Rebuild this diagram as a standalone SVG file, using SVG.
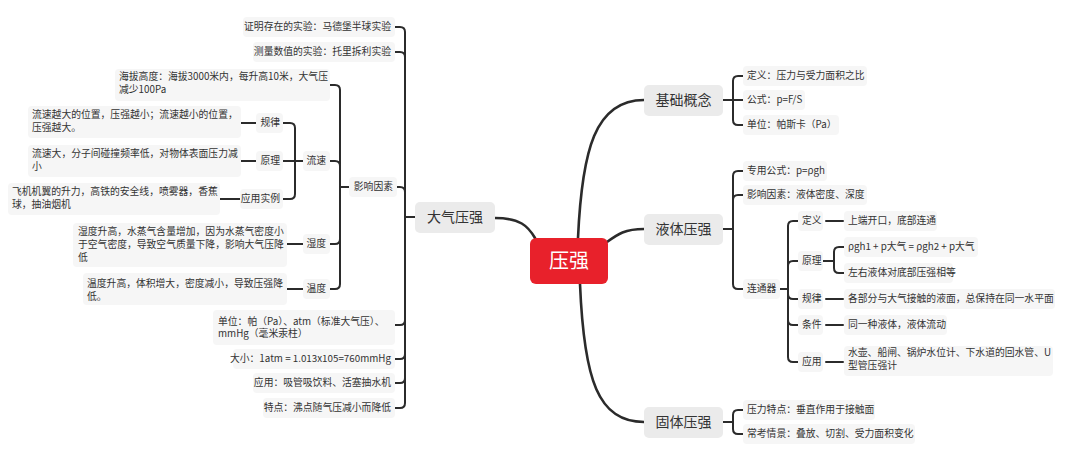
<svg xmlns="http://www.w3.org/2000/svg" width="1080" height="473" viewBox="0 0 1080 473">
<style>
text{font-family:"Noto Sans CJK SC","Noto Sans",sans-serif;fill:#333;}
.t{font-size:9.8px;}
.b{font-size:14px;}
.leaf{fill:#f6f6f6;}
.br{fill:#ebebeb;}
.lnk path{fill:none;stroke:#2b2b2b;stroke-width:2;stroke-linecap:round;stroke-linejoin:round;}
.lnk .m{stroke-width:2.6;}
</style>
<rect width="1080" height="473" fill="#fff"/>
<g class="lnk" id="connectors">
<path class="m" d="M495,218 C520,218 528,226 535,238"/>
<path class="m" d="M607,242 C618,234 625,229 644,229"/>
<path class="m" d="M578,238 C582,150 595,100 644,100"/>
<path class="m" d="M580,284 C584,380 598,422 644,422"/>
<path d="M723,100 H733 V81 Q733,76 738,76 H743"/>
<path d="M723,100 H743"/>
<path d="M723,100 H733 V120 Q733,125 738,125 H743"/>
<path d="M723,229 H733 V176 Q733,171 738,171 H743"/>
<path d="M723,229 H733 V200 Q733,195 738,195 H743"/>
<path d="M723,229 H733 V284 Q733,289 738,289 H743"/>
<path d="M780,289 H788 V226 Q788,221 793,221 H798"/>
<path d="M780,289 H788 V266 Q788,261 793,261 H798"/>
<path d="M780,289 H788 V294 Q788,299 793,299 H798"/>
<path d="M780,289 H788 V320 Q788,325 793,325 H798"/>
<path d="M780,289 H788 V357 Q788,362 793,362 H798"/>
<path d="M823,261 H834 V252 Q834,247 839,247 H844"/>
<path d="M823,261 H834 V268 Q834,273 839,273 H844"/>
<path d="M826,221 H843"/>
<path d="M826,299 H843"/>
<path d="M826,325 H843"/>
<path d="M826,362 H843"/>
<path d="M723,422 H733 V415 Q733,410 738,410 H743"/>
<path d="M723,422 H733 V429 Q733,434 738,434 H743"/>
<path d="M415,217 H405 V32 Q405,27 400,27 H395"/>
<path d="M415,217 H405 V57 Q405,52 400,52 H395"/>
<path d="M415,217 H405 V192 Q405,187 400,187 H397"/>
<path d="M415,217 H405 V320 Q405,325 400,325 H395"/>
<path d="M415,217 H405 V354 Q405,359 400,359 H395"/>
<path d="M415,217 H405 V378 Q405,383 400,383 H395"/>
<path d="M415,217 H405 V403 Q405,408 400,408 H395"/>
<path d="M349,187 H340 V90 Q340,85 335,85 H330"/>
<path d="M349,187 H340 V166 Q340,161 335,161 H330"/>
<path d="M349,187 H340 V239 Q340,244 335,244 H330"/>
<path d="M349,187 H340 V284 Q340,289 335,289 H330"/>
<path d="M303,161 H295 V128 Q295,123 290,123 H283"/>
<path d="M303,161 H283"/>
<path d="M303,161 H295 V194 Q295,199 290,199 H283"/>
<path d="M256,123 H241"/>
<path d="M256,161 H241"/>
<path d="M240,199 H220"/>
<path d="M303,244 H287"/>
<path d="M303,289 H287"/>
</g>
<g id="root"><rect x="530" y="238" width="78" height="46" rx="6" fill="#e8212b"/><text x="569" y="261" dy="0.35em" text-anchor="middle" style="font-size:20px;fill:#fff">压强</text></g>
<g id="n-dqyq"><rect class="br" x="415" y="202" width="80" height="31" rx="5"/><text class="b" x="455" y="217.5" dy="0.35em" text-anchor="middle">大气压强</text></g>
<g id="n-jcgn"><rect class="br" x="644" y="85" width="79" height="31" rx="5"/><text class="b" x="683.5" y="100.5" dy="0.35em" text-anchor="middle">基础概念</text></g>
<g id="n-ytyq"><rect class="br" x="644" y="214" width="79" height="31" rx="5"/><text class="b" x="683.5" y="229.5" dy="0.35em" text-anchor="middle">液体压强</text></g>
<g id="n-gtyq"><rect class="br" x="644" y="407" width="79" height="31" rx="5"/><text class="b" x="683.5" y="422.5" dy="0.35em" text-anchor="middle">固体压强</text></g>
<g id="n-dy"><rect class="leaf" x="743" y="66" width="124" height="20" rx="4"/><text class="t" x="747" y="76" dy="0.35em">定义：压力与受力面积之比</text></g>
<g id="n-gs"><rect class="leaf" x="743" y="90" width="62" height="20" rx="4"/><text class="t" x="747" y="100" dy="0.35em">公式：p=F/S</text></g>
<g id="n-dw"><rect class="leaf" x="743" y="115" width="96" height="20" rx="4"/><text class="t" x="747" y="125" dy="0.35em">单位：帕斯卡（Pa）</text></g>
<g id="n-zygs"><rect class="leaf" x="743" y="161" width="84" height="20" rx="4"/><text class="t" x="747" y="171" dy="0.35em">专用公式：p=ρgh</text></g>
<g id="n-yxys2"><rect class="leaf" x="743" y="185" width="124" height="20" rx="4"/><text class="t" x="747" y="195" dy="0.35em">影响因素：液体密度、深度</text></g>
<g id="n-ltq"><rect class="leaf" x="743" y="279" width="37" height="20" rx="4"/><text class="t" x="747" y="289" dy="0.35em">连通器</text></g>
<g id="n-ltq-dy"><rect class="leaf" x="798" y="211" width="25" height="20" rx="4"/><text class="t" x="802" y="221" dy="0.35em">定义</text></g>
<g id="n-ltq-yl"><rect class="leaf" x="798" y="251" width="25" height="20" rx="4"/><text class="t" x="802" y="261" dy="0.35em">原理</text></g>
<g id="n-ltq-gl"><rect class="leaf" x="798" y="289" width="25" height="20" rx="4"/><text class="t" x="802" y="299" dy="0.35em">规律</text></g>
<g id="n-ltq-tj"><rect class="leaf" x="798" y="315" width="25" height="20" rx="4"/><text class="t" x="802" y="325" dy="0.35em">条件</text></g>
<g id="n-ltq-yy"><rect class="leaf" x="798" y="352" width="25" height="20" rx="4"/><text class="t" x="802" y="362" dy="0.35em">应用</text></g>
<g id="n-ltq-dy-l"><rect class="leaf" x="844" y="211" width="93" height="20" rx="4"/><text class="t" x="848" y="221" dy="0.35em">上端开口，底部连通</text></g>
<g id="n-ltq-yl-1"><rect class="leaf" x="844" y="237" width="134" height="20" rx="4"/><text class="t" x="848" y="247" dy="0.35em">ρgh1 + p大气 = ρgh2 + p大气</text></g>
<g id="n-ltq-yl-2"><rect class="leaf" x="844" y="263" width="109" height="20" rx="4"/><text class="t" x="848" y="273" dy="0.35em">左右液体对底部压强相等</text></g>
<g id="n-ltq-gl-l"><rect class="leaf" x="844" y="289" width="211" height="20" rx="4"/><text class="t" x="848" y="299" dy="0.35em">各部分与大气接触的液面，总保持在同一水平面</text></g>
<g id="n-ltq-tj-l"><rect class="leaf" x="844" y="315" width="103" height="20" rx="4"/><text class="t" x="848" y="325" dy="0.35em">同一种液体，液体流动</text></g>
<g id="n-ltq-yy-l"><rect class="leaf" x="844" y="346" width="209" height="30" rx="4"/><text class="t" y="352.5" dy="0.35em"><tspan x="848">水壶、船闸、锅炉水位计、下水道的回水管、U</tspan><tspan x="848" dy="13">型管压强计</tspan></text></g>
<g id="n-ylfd"><rect class="leaf" x="743" y="400" width="132" height="20" rx="4"/><text class="t" x="747" y="410" dy="0.35em">压力特点：垂直作用于接触面</text></g>
<g id="n-ckqj"><rect class="leaf" x="743" y="424" width="172" height="20" rx="4"/><text class="t" x="747" y="434" dy="0.35em">常考情景：叠放、切割、受力面积变化</text></g>
<g id="n-zmcz"><rect class="leaf" x="243" y="17" width="152" height="20" rx="4"/><text class="t" x="391" y="27" dy="0.35em" text-anchor="end">证明存在的实验：马德堡半球实验</text></g>
<g id="n-clsz"><rect class="leaf" x="253" y="42" width="142" height="20" rx="4"/><text class="t" x="391" y="52" dy="0.35em" text-anchor="end">测量数值的实验：托里拆利实验</text></g>
<g id="n-yxys"><rect class="leaf" x="349" y="177" width="48" height="20" rx="4"/><text class="t" x="393" y="187" dy="0.35em" text-anchor="end">影响因素</text></g>
<g id="n-dw2"><rect class="leaf" x="213" y="310" width="182" height="35" rx="4"/><text class="t" y="322" dy="0.35em"><tspan x="218">单位：帕（Pa）、atm（标准大气压）、</tspan><tspan x="218" dy="12">mmHg（毫米汞柱）</tspan></text></g>
<g id="n-dx"><rect class="leaf" x="233" y="349" width="162" height="20" rx="4"/><text class="t" x="391" y="359" dy="0.35em" text-anchor="end">大小：1atm = 1.013x105=760mmHg</text></g>
<g id="n-yy"><rect class="leaf" x="253" y="373" width="142" height="20" rx="4"/><text class="t" x="391" y="383" dy="0.35em" text-anchor="end">应用：吸管吸饮料、活塞抽水机</text></g>
<g id="n-td"><rect class="leaf" x="263" y="398" width="132" height="20" rx="4"/><text class="t" x="391" y="408" dy="0.35em" text-anchor="end">特点：沸点随气压减小而降低</text></g>
<g id="n-hbgd"><rect class="leaf" x="115" y="69" width="215" height="32" rx="4"/><text class="t" y="77" dy="0.35em"><tspan x="119">海拔高度：海拔3000米内，每升高10米，大气压</tspan><tspan x="119" dy="12.5">减少100Pa</tspan></text></g>
<g id="n-ls"><rect class="leaf" x="303" y="151" width="27" height="20" rx="4"/><text class="t" x="326" y="161" dy="0.35em" text-anchor="end">流速</text></g>
<g id="n-sd"><rect class="leaf" x="303" y="234" width="27" height="20" rx="4"/><text class="t" x="326" y="244" dy="0.35em" text-anchor="end">湿度</text></g>
<g id="n-wd"><rect class="leaf" x="303" y="279" width="27" height="20" rx="4"/><text class="t" x="326" y="289" dy="0.35em" text-anchor="end">温度</text></g>
<g id="n-ls-gl"><rect class="leaf" x="256" y="113" width="27" height="20" rx="4"/><text class="t" x="280" y="123" dy="0.35em" text-anchor="end">规律</text></g>
<g id="n-ls-yl"><rect class="leaf" x="256" y="151" width="27" height="20" rx="4"/><text class="t" x="280" y="161" dy="0.35em" text-anchor="end">原理</text></g>
<g id="n-ls-yy"><rect class="leaf" x="240" y="189" width="43" height="20" rx="4"/><text class="t" x="280" y="199" dy="0.35em" text-anchor="end">应用实例</text></g>
<g id="n-ls-gl-l"><rect class="leaf" x="28" y="106" width="213" height="32" rx="4"/><text class="t" y="115" dy="0.35em"><tspan x="32">流速越大的位置，压强越小；流速越小的位置，</tspan><tspan x="32" dy="13">压强越大。</tspan></text></g>
<g id="n-ls-yl-l"><rect class="leaf" x="28" y="145" width="213" height="32" rx="4"/><text class="t" y="154" dy="0.35em"><tspan x="32">流速大，分子间碰撞频率低，对物体表面压力减</tspan><tspan x="32" dy="13">小</tspan></text></g>
<g id="n-ls-yy-l"><rect class="leaf" x="8" y="183" width="212" height="32" rx="4"/><text class="t" y="192" dy="0.35em"><tspan x="12">飞机机翼的升力，高铁的安全线，喷雾器，香蕉</tspan><tspan x="12" dy="13">球，抽油烟机</tspan></text></g>
<g id="n-sd-l"><rect class="leaf" x="73" y="223" width="214" height="44" rx="4"/><text class="t" y="232" dy="0.35em"><tspan x="78">湿度升高，水蒸气含量增加，因为水蒸气密度小</tspan><tspan x="78" dy="12.8">于空气密度，导致空气质量下降，影响大气压降</tspan><tspan x="78" dy="12.8">低</tspan></text></g>
<g id="n-wd-l"><rect class="leaf" x="83" y="273" width="204" height="32" rx="4"/><text class="t" y="284" dy="0.35em"><tspan x="87">温度升高，体积增大，密度减小，导致压强降</tspan><tspan x="87" dy="13">低。</tspan></text></g>
</svg>
